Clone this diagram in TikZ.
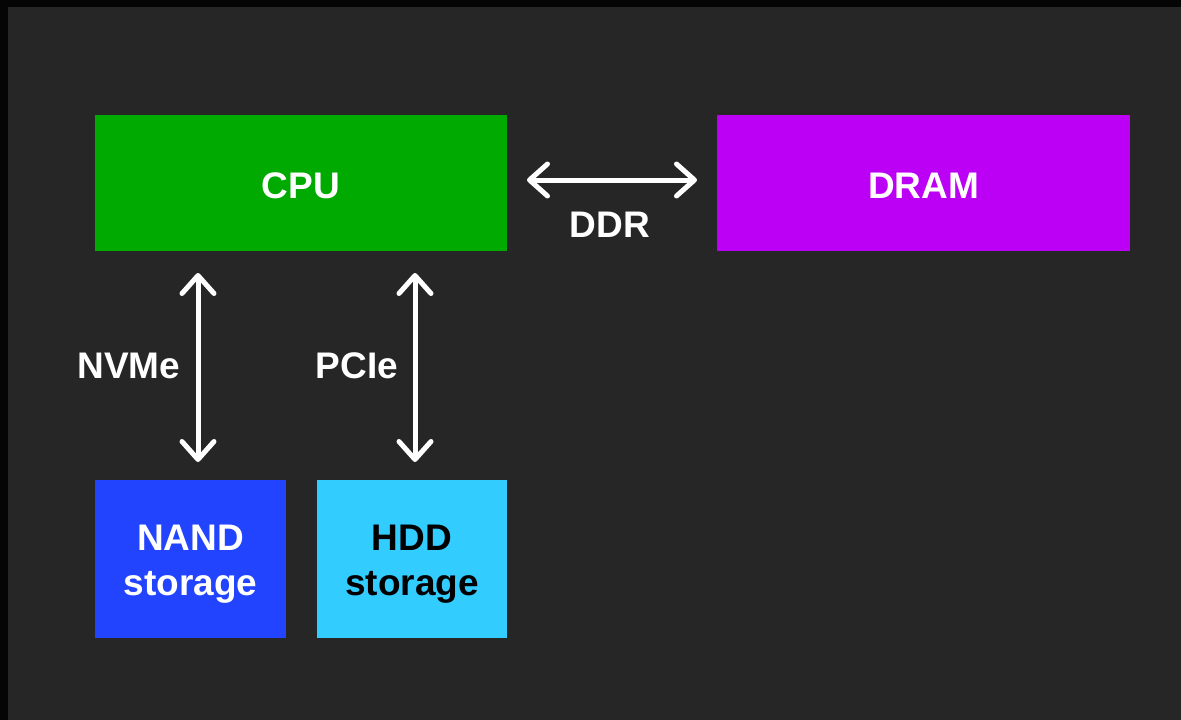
\documentclass[tikz,border=0pt]{standalone}
\usepackage{fontspec}
\setmainfont{Liberation Sans}
\usetikzlibrary{arrows.meta}
\definecolor{bgc}{HTML}{262626}
\definecolor{edgec}{HTML}{050505}
\definecolor{cpuc}{HTML}{00AA00}
\definecolor{dramc}{HTML}{BB00F5}
\definecolor{nandc}{HTML}{2244FF}
\definecolor{hddc}{HTML}{33CCFF}
\begin{document}
\begin{tikzpicture}[x=1pt,y=-1pt,
  box/.style={inner sep=0pt, outer sep=0pt},
  lbl/.style={font=\fontsize{37}{45}\selectfont\bfseries, text=white, inner sep=0pt},
  biarrow/.style={draw=white, line width=5pt, {Straight Barb[length=18pt,width=32pt,round]}-{Straight Barb[length=18pt,width=32pt,round]}}]
\useasboundingbox (0,0) rectangle (1181,720);
\fill[edgec] (0,0) rectangle (1181,720);
\fill[bgc] (8,7) rectangle (1181,720);
\node[box, fill=cpuc, minimum width=412pt, minimum height=136pt] (cpu) at (301,183) {};
\node[box, fill=dramc, minimum width=413pt, minimum height=136pt] (dram) at (923.5,183) {};
\node[box, fill=nandc, minimum width=191pt, minimum height=158pt] (nand) at (190.5,559) {};
\node[box, fill=hddc, minimum width=190pt, minimum height=158pt] (hdd) at (412,559) {};
\node[lbl] (cputxt) at ([yshift=-3pt]cpu.center) {CPU};
\node[lbl] (dramtxt) at ([yshift=-3pt]dram.center) {DRAM};
\node[lbl, align=center] (nandtxt) at ([yshift=-5.5pt]nand.center) {NAND\\storage};
\node[lbl, align=center, text=black] (hddtxt) at ([yshift=-5.5pt]hdd.center) {HDD\\storage};
\coordinate (c1) at (198,0);
\coordinate (c2) at (415,0);
\coordinate (c3) at (0,180);
\draw[biarrow, shorten <=22pt, shorten >=18pt] (cpu.south -| c1) -- (nand.north -| c1);
\draw[biarrow, shorten <=22pt, shorten >=18pt] (cpu.south -| c2) -- (hdd.north -| c2);
\draw[biarrow, shorten <=20pt, shorten >=20pt] (cpu.east |- c3) -- (dram.west |- c3);
\node[lbl] (ddr) at (610,225) {DDR};
\node[lbl] (nvme) at (129,366) {NVMe};
\node[lbl] (pcie) at (357,366) {PCIe};
\end{tikzpicture}
\end{document}
